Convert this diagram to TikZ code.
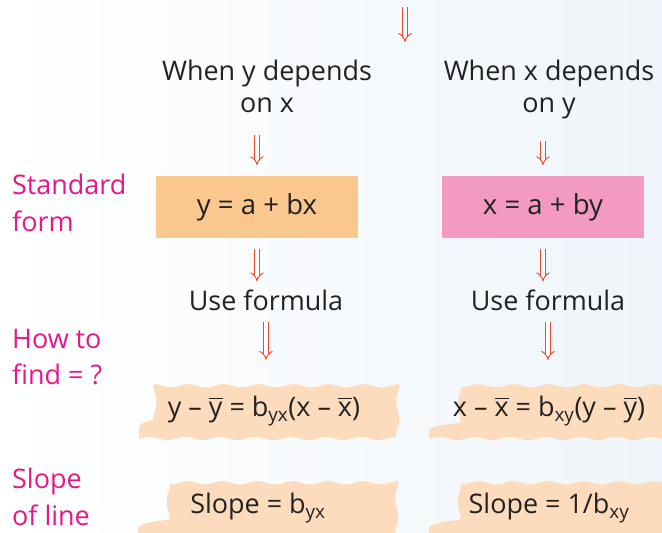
\documentclass[tikz,border=0pt]{standalone}
\usepackage{fontspec}
\setmainfont{Open Sans}
\usepackage{amsmath}
\usetikzlibrary{arrows.meta, positioning, decorations.pathmorphing}

\definecolor{arrowred}{HTML}{EE4B2B}
\definecolor{peach}{HTML}{FAC78F}
\definecolor{pinkbox}{HTML}{F39AC2}
\definecolor{blobfill}{HTML}{FDDCBD}
\definecolor{labelpink}{HTML}{E5178A}
\definecolor{ink}{HTML}{222222}
\definecolor{bgblue}{HTML}{EFF5FA}

\begin{document}
\begin{tikzpicture}[
    x=0.03cm, y=-0.03cm,
    heading/.style={anchor=north, align=center, text=ink, font=\fontsize{23}{27.5}\selectfont},
    formbox/.style={rectangle, minimum width=6.06cm, minimum height=1.86cm, text centered, text=ink, font=\fontsize{23.5}{26}\selectfont},
    blob/.style={rectangle, minimum width=7.5cm, minimum height=1.65cm, text centered, text=ink, fill=blobfill,
        decorate, decoration={snake, amplitude=1.4pt, segment length=30pt}, font=\fontsize{23}{26}\selectfont},
    sidelabel/.style={anchor=west, align=left, text=labelpink, font=\fontsize{23}{31}\selectfont},
    arrow/.style={arrowred, line width=0.8pt, double distance=3.2pt, -{Implies[scale=1.9]}, shorten <=7pt, shorten >=7pt}
]

% background
\useasboundingbox (0,0) rectangle (662,533);
\clip (0,0) rectangle (662,533);
\shade[left color=white, right color=bgblue] (0,0) rectangle (662,533);

% headings
\coordinate (topA) at (405,0);
\coordinate (topB) at (405,42);
\node (headL) [heading] at (267,56) {When y depends\\on x};
\node (headR) [heading] at (549,56) {When x depends\\on y};

% standard form
\node (boxL) [formbox, fill=peach] at (257,207) {y = a + bx};
\node (boxR) [formbox, fill=pinkbox] at (543,207) {x = a + by};

\node (useL) [heading] at (266,286) {Use formula};
\node (useR) [heading] at (548,286) {Use formula};

% formulas
\node (fitL) [blob] at (264,411) {y – $\overline{\text{y}}$ = b${}_{\text{yx}}$(x – $\overline{\text{x}}$)};
\node (fitR) [blob, minimum width=7.2cm] at (549,411) {x – $\overline{\text{x}}$ = b${}_{\text{xy}}$(y – $\overline{\text{y}}$)};
\node (slopeL) [blob, minimum width=7.2cm] at (258,508) {Slope = b${}_{\text{yx}}$};
\node (slopeR) [blob, minimum width=7.2cm] at (549,508) {Slope = 1/b${}_{\text{xy}}$};

% side labels
\node (lblStd) [sidelabel] at (8,203) {Standard\\form};
\node (lblHow) [sidelabel] at (8,357) {How to\\find = ?};
\node (lblSlope) [sidelabel] at (8,497) {Slope\\of line};

% arrows
\draw [arrow, shorten <=6pt, shorten >=0pt] (topA) -- (topB);
\draw [arrow, shorten <=15pt, shorten >=9pt] (boxL.north |- headL.south) -- (boxL.north);
\draw [arrow, shorten <=15pt, shorten >=9pt] (boxR.north |- headR.south) -- (boxR.north);
\draw [arrow, shorten <=9pt, shorten >=4pt] (boxL.south) -- (boxL.south |- useL.north);
\draw [arrow, shorten <=9pt, shorten >=4pt] (boxR.south) -- (boxR.south |- useR.north);
\draw [arrow, shorten <=6pt, shorten >=20pt] (useL.south) -- (useL.south |- fitL.north);
\draw [arrow, shorten <=6pt, shorten >=20pt] (useR.south) -- (useR.south |- fitR.north);

\end{tikzpicture}
\end{document}
